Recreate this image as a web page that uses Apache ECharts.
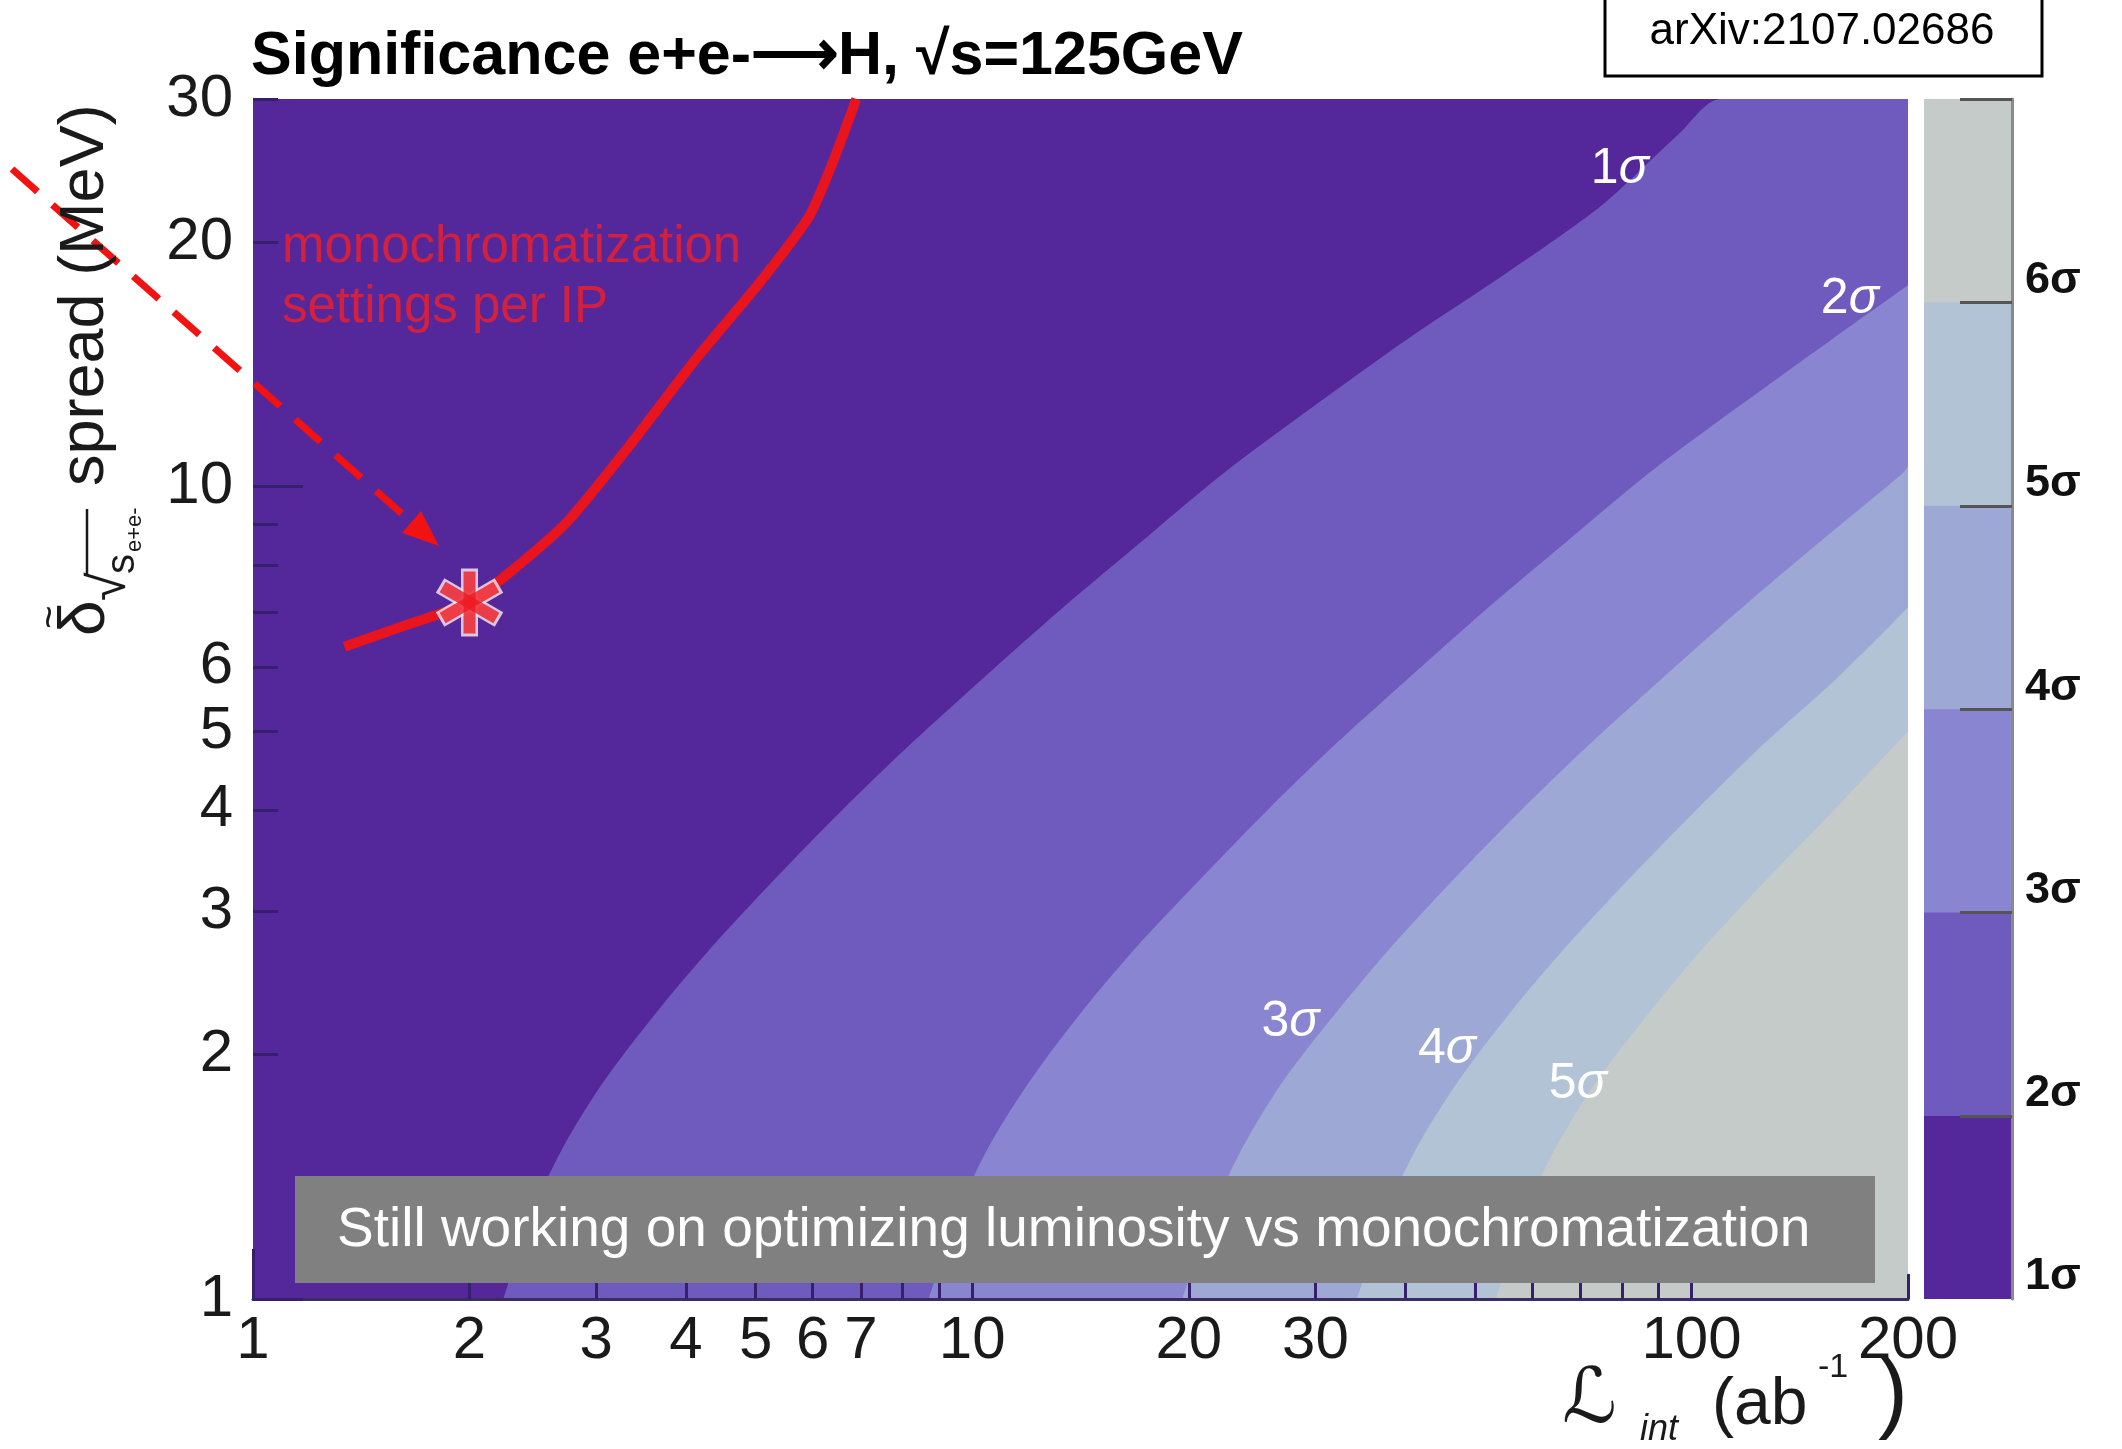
<!DOCTYPE html>
<html>
<head>
<meta charset="utf-8">
<script src="https://cdn.jsdelivr.net/npm/echarts@6/dist/echarts.min.js"></script>
<style>
html, body { margin: 0; padding: 0; background: #fff; }
#chart { width: 2122px; height: 1449px; }
</style>
</head>
<body>
<div id="chart"></div>
<script>
// sigma contour boundaries, points are [L_int (ab^-1), delta (MeV)]
const bound1 = [[2.23, 1.0], [2.43, 1.26], [2.69, 1.53], [3.07, 1.85], [3.62, 2.24], [4.34, 2.71], [5.30, 3.28], [6.56, 3.98], [8.21, 4.82], [10.4, 5.83], [13.3, 7.07], [17.2, 8.56], [22.4, 10.4], [30.0, 12.6], [40.3, 15.2], [55.7, 18.4], [75.5, 22.3], [95.8, 27.1], [110, 30], [200, 30]];
const bound2 = [[8.7, 1.0], [9.5, 1.26], [10.5, 1.53], [12.0, 1.85], [14.1, 2.24], [16.9, 2.71], [20.7, 3.28], [25.6, 3.98], [32.0, 4.82], [40.6, 5.83], [51.9, 7.07], [67.1, 8.56], [87.4, 10.4], [117, 12.6], [157, 15.2], [200, 17.7]];
const bound3 = [[19.6, 1.0], [21.4, 1.26], [23.7, 1.53], [27.0, 1.85], [31.9, 2.24], [38.2, 2.71], [46.6, 3.28], [57.7, 3.98], [72.2, 4.82], [91.5, 5.83], [117, 7.07], [151, 8.56], [197, 10.4], [200, 10.6]];
const bound4 = [[34.3, 1.0], [37.4, 1.26], [41.4, 1.53], [47.3, 1.85], [55.7, 2.24], [66.8, 2.71], [81.6, 3.28], [101, 3.98], [126, 4.82], [160, 5.83], [200, 7.1]];
const bound5 = [[53.5, 1.0], [58.3, 1.26], [64.6, 1.53], [73.7, 1.85], [86.9, 2.24], [104, 2.71], [127, 3.28], [157, 3.98], [200, 5.0]];
const bounds = [bound1, bound2, bound3, bound4, bound5];

// red line: monochromatization settings per IP
const redCurve = [[1.34, 6.35], [1.63, 6.75], [2.0, 7.2], [2.31, 7.93], [2.74, 9.07], [3.33, 11.2], [4.14, 14.4], [5.03, 17.7], [5.93, 21.5], [6.39, 25.0], [6.9, 30]];
const starPoint = [2.0, 7.2];

// white labels on the contours
const contourLabelText = ['1', '2', '3', '4', '5'];
const contourLabelPos = [[79.5, 24.6], [166, 17.0], [27.7, 2.19], [45.7, 2.03], [69.5, 1.84]];

// colours of the bands, 1 sigma (dark) to 6 sigma (grey)
const bandColors = ['#54289b', '#6f5abe', '#8a85d0', '#9ea8d4', '#b2c3d5', '#c5cbc8'];
const sigmaTops = [2, 3, 4, 5, 6, 7];
const colorbarLabelAt = [1.1, 2, 3, 4, 5, 6];

// ticks
const xTickLabels = [1, 2, 3, 4, 5, 6, 7, 10, 20, 30, 100, 200];
const xMajorTicks = [1, 10, 100];
const xMinorTicks = [2, 3, 4, 5, 6, 7, 8, 9, 20, 30, 40, 50, 60, 70, 80, 90, 200];
const yTickLabels = [1, 2, 3, 4, 5, 6, 10, 20, 30];
const yMajorTicks = [1, 10];
const yMinorTicks = [2, 3, 4, 5, 6, 7, 8, 9, 20, 30];

const chart = echarts.init(document.getElementById('chart'));

const tickColor = '#36206e';
const fontF = '"Liberation Sans", Arial, sans-serif';

const bandSeries = bounds.map(function (b, k) {
  return {
    type: 'line',
    xAxisIndex: 0,
    yAxisIndex: 0,
    data: b,
    symbol: 'none',
    smooth: 0.3,
    silent: true,
    z: 3,
    lineStyle: { width: 0 },
    areaStyle: { color: bandColors[k + 1], opacity: 1, origin: 'start' }
  };
});

// colour bar, widest band drawn first
const colorbarSeries = [];
for (let i = sigmaTops.length - 1; i >= 0; i--) {
  colorbarSeries.push({
    type: 'bar',
    xAxisIndex: 2,
    yAxisIndex: 2,
    data: [sigmaTops[i]],
    barWidth: '100%',
    barGap: '-100%',
    silent: true,
    clip: true,
    itemStyle: { color: bandColors[i] }
  });
}

// asterisk marker: white bars underneath, red bars on top
const starRot = [0, 60, -60];
const starSeries = [];
starRot.forEach(function (r) {
  starSeries.push({
    type: 'scatter', xAxisIndex: 0, yAxisIndex: 0, silent: true, z: 6,
    data: [starPoint], symbol: 'rect', symbolSize: [17, 68], symbolRotate: r,
    itemStyle: { color: '#fbeef2' }
  });
});
starRot.forEach(function (r) {
  starSeries.push({
    type: 'scatter', xAxisIndex: 0, yAxisIndex: 0, silent: true, z: 7,
    data: [starPoint], symbol: 'rect', symbolSize: [12, 62], symbolRotate: r,
    itemStyle: { color: '#ec1c24' }
  });
});

const option = {
  animation: false,
  backgroundColor: '#ffffff',
  textStyle: { fontFamily: fontF },
  title: {
    text: 'Significance e+e-\u27f6H, \u221as=125GeV',
    left: 246,
    top: 22,
    textStyle: { fontSize: 61, fontWeight: 'bold', color: '#000', fontFamily: fontF }
  },
  grid: [
    { left: 253, top: 99, width: 1655, height: 1200, show: true, backgroundColor: bandColors[0], borderWidth: 0 },
    { left: 1924, top: 99, width: 88, height: 1200, show: false }
  ],
  xAxis: [
    {
      gridIndex: 0, type: 'log', min: 1, max: 200, position: 'bottom', z: 10,
      axisLine: { show: true, lineStyle: { color: '#3b2d62', width: 3 } },
      axisTick: { show: true, inside: true, length: 25, customValues: xMinorTicks, lineStyle: { color: tickColor, width: 3 } },
      minorTick: { show: false },
      splitLine: { show: false },
      axisLabel: {
        customValues: xTickLabels, margin: 12, fontSize: 60, color: '#1a1a1a', fontFamily: fontF,
        formatter: function (v) { return String(+(+v).toPrecision(3)); }
      }
    },
    {
      gridIndex: 0, type: 'log', min: 1, max: 200, position: 'bottom', z: 10,
      axisLine: { show: false },
      axisTick: { show: true, inside: true, length: 50, customValues: xMajorTicks, lineStyle: { color: tickColor, width: 3 } },
      splitLine: { show: false },
      axisLabel: { show: false }
    },
    { gridIndex: 1, type: 'category', data: ['sigma'], show: false }
  ],
  yAxis: [
    {
      gridIndex: 0, type: 'log', min: 1, max: 30, position: 'left', z: 10,
      axisLine: { show: false },
      axisTick: { show: true, inside: true, length: 25, customValues: yMinorTicks, lineStyle: { color: tickColor, width: 3 } },
      splitLine: { show: false },
      axisLabel: {
        customValues: yTickLabels, margin: 20, fontSize: 60, color: '#1a1a1a', fontFamily: fontF,
        formatter: function (v) { return String(+(+v).toPrecision(3)); }
      }
    },
    {
      gridIndex: 0, type: 'log', min: 1, max: 30, position: 'left', z: 10,
      axisLine: { show: false },
      axisTick: { show: true, inside: true, length: 50, customValues: yMajorTicks, lineStyle: { color: tickColor, width: 3 } },
      splitLine: { show: false },
      axisLabel: { show: false }
    },
    {
      gridIndex: 1, type: 'value', min: 1.1, max: 7, position: 'right', z: 10,
      axisLine: { show: true, lineStyle: { color: '#8a8a8a', width: 3 } },
      axisTick: { show: true, inside: true, length: 52, customValues: sigmaTops, lineStyle: { color: '#555', width: 3 } },
      splitLine: { show: false },
      axisLabel: {
        customValues: colorbarLabelAt, margin: 13, fontSize: 45, fontWeight: 'bold', color: '#111',
        verticalAlign: 'bottom', lineHeight: 44, fontFamily: fontF,
        formatter: function (v) { return Math.round(v) + '\u03c3'; }
      }
    }
  ],
  series: bandSeries.concat([
    {
      type: 'line', xAxisIndex: 0, yAxisIndex: 0, data: redCurve, symbol: 'none', smooth: 0.2, silent: true, z: 5,
      lineStyle: { color: '#e8141e', width: 10 }
    },
    {
      type: 'scatter', xAxisIndex: 0, yAxisIndex: 0, silent: true, symbolSize: 2, z: 8,
      itemStyle: { color: 'rgba(0,0,0,0)' },
      data: contourLabelPos.map(function (p, i) { return { value: p, name: contourLabelText[i] }; }),
      label: {
        show: true, position: [1, 1], align: 'center', verticalAlign: 'middle',
        opacity: 1, color: '#ffffff', textBorderWidth: 0,
        formatter: function (p) { return '{n|' + p.name + '}{s|\u03c3}'; },
        rich: {
          n: { fontSize: 50, color: '#ffffff', fontFamily: fontF, textBorderWidth: 0 },
          s: { fontSize: 50, color: '#ffffff', fontStyle: 'italic', fontFamily: fontF, textBorderWidth: 0 }
        }
      }
    }
  ]).concat(starSeries).concat(colorbarSeries),
  graphic: [
    // arXiv box
    { type: 'rect', z: 100, shape: { x: 1605, y: -10, width: 437, height: 86 }, style: { fill: '#fff', stroke: '#000', lineWidth: 3 } },
    { type: 'text', z: 101, x: 1822, y: 32, style: { text: 'arXiv:2107.02686', fontSize: 44, fontFamily: fontF, fill: '#000', align: 'center', verticalAlign: 'middle' } },
    // annotation text
    { type: 'text', z: 100, x: 282, y: 218, style: { text: 'monochromatization\nsettings per IP', fontSize: 51, lineHeight: 60, fontFamily: fontF, fill: '#d2203e', align: 'left', verticalAlign: 'top' } },
    // dashed arrow
    { type: 'line', z: 100, shape: { x1: 12, y1: 169, x2: 410, y2: 521 }, style: { stroke: '#f21212', lineWidth: 7, lineDash: [34, 20] } },
    { type: 'polygon', z: 100, shape: { points: [[439, 546], [402, 533], [421, 511]] }, style: { fill: '#f21212' } },
    // caption box
    { type: 'rect', z: 100, shape: { x: 295, y: 1176, width: 1580, height: 107 }, style: { fill: '#808080' } },
    { type: 'text', z: 101, x: 337, y: 1231, style: { text: 'Still working on optimizing luminosity vs monochromatization', fontSize: 55, fontFamily: fontF, fill: '#fff', align: 'left', verticalAlign: 'middle' } },
    // y axis title, rotated
    {
      type: 'group', x: 107, y: 636, rotation: Math.PI / 2, z: 100,
      children: [
        { type: 'text', z: 100, x: 0, y: -21, style: { text: '\u03b4', fontSize: 64, fontFamily: fontF, fill: '#1a1a1a', verticalAlign: 'middle' } },
        { type: 'text', z: 100, x: 19, y: -56, style: { text: '~', fontSize: 40, fontFamily: fontF, fill: '#1a1a1a', align: 'center', verticalAlign: 'middle' } },
        { type: 'text', z: 100, x: 35, y: 4, style: { text: '\u221a', fontSize: 52, fontFamily: fontF, fill: '#1a1a1a', verticalAlign: 'middle' } },
        { type: 'line', z: 100, shape: { x1: 61, y1: -20, x2: 127, y2: -20 }, style: { stroke: '#1a1a1a', lineWidth: 2.5 } },
        { type: 'text', z: 100, x: 62, y: 16, style: { text: 's', fontSize: 40, fontFamily: fontF, fill: '#1a1a1a', verticalAlign: 'middle' } },
        { type: 'text', z: 100, x: 84, y: 28, style: { text: 'e+e-', fontSize: 22, fontFamily: fontF, fill: '#1a1a1a', verticalAlign: 'middle' } },
        { type: 'text', z: 100, x: 150, y: -21, style: { text: 'spread (MeV)', fontSize: 63, fontFamily: fontF, fill: '#1a1a1a', verticalAlign: 'middle' } }
      ]
    },
    // x axis title
    { type: 'text', z: 100, x: 1562, y: 1402, style: { text: '\u2112', fontSize: 76, fontStyle: 'italic', fontFamily: '"DejaVu Sans", sans-serif', fill: '#1a1a1a', verticalAlign: 'middle' } },
    { type: 'text', z: 100, x: 1640, y: 1430, style: { text: 'int', fontSize: 36, fontStyle: 'italic', fontFamily: fontF, fill: '#1a1a1a', verticalAlign: 'middle' } },
    { type: 'text', z: 100, x: 1712, y: 1406, style: { text: '(ab', fontSize: 66, fontFamily: fontF, fill: '#1a1a1a', verticalAlign: 'middle' } },
    { type: 'text', z: 100, x: 1818, y: 1368, style: { text: '-1', fontSize: 34, fontFamily: fontF, fill: '#1a1a1a', verticalAlign: 'middle' } },
    { type: 'text', z: 100, x: 1878, y: 1396, style: { text: ')', fontSize: 90, fontFamily: fontF, fill: '#1a1a1a', verticalAlign: 'middle' } }
  ]
};

chart.setOption(option);
</script>
</body>
</html>
